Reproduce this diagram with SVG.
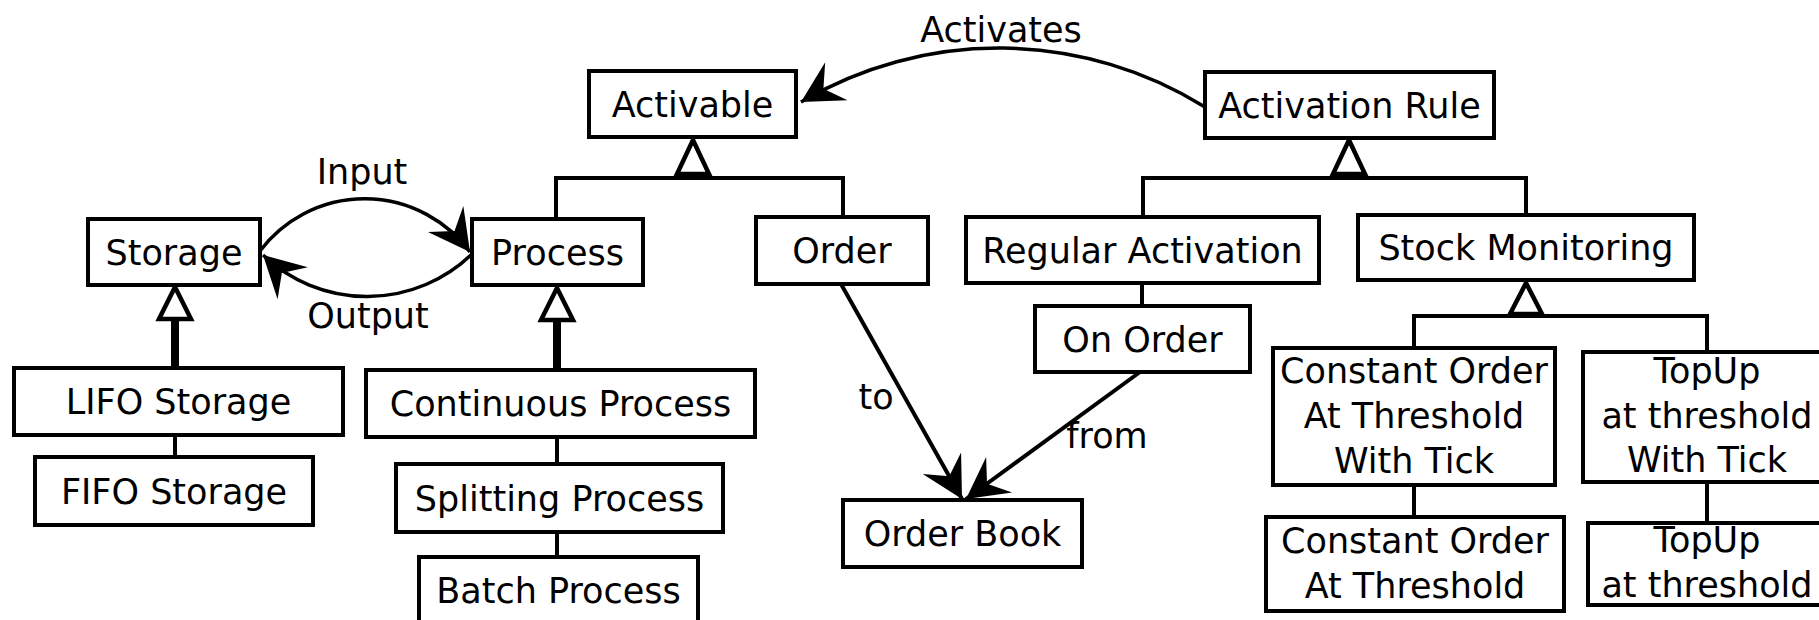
<svg xmlns="http://www.w3.org/2000/svg" width="1819" height="620" viewBox="0 0 1819 620">
<style>
.box{fill:#fff;stroke:#000;stroke-width:4}
.t{font-family:"DejaVu Sans",sans-serif;font-size:35px;fill:#000;text-anchor:middle}
.ln{fill:none;stroke:#000;stroke-width:4}
.arc{fill:none;stroke:#000;stroke-width:3.5}
.tri{fill:#fff;stroke:#000;stroke-width:4.5;stroke-linejoin:miter}
.stem{fill:none;stroke:#000;stroke-width:8}
</style>
<defs>
<marker id="arr" markerUnits="userSpaceOnUse" orient="auto" markerWidth="50" markerHeight="50" viewBox="-46 -25 50 50" refX="0" refY="0">
<path d="M0,0 L-41,-22 L-26,0 L-41,22 Z" fill="#000"/>
</marker>
</defs>
<rect width="1819" height="620" fill="#fff"/>
<g id="connectors">
<path class="arc" d="M1205,107 A390,390 0 0 0 801,102" marker-end="url(#arr)"/>
<path class="arc" d="M260,251 A131,131 0 0 1 470,252" marker-end="url(#arr)"/>
<path class="arc" d="M472,254 A151,151 0 0 1 263,255" marker-end="url(#arr)"/>
<path class="ln" d="M841,284 L962,499" marker-end="url(#arr)"/>
<path class="ln" d="M1140,372 L966,499" marker-end="url(#arr)"/>
<polyline class="ln" points="556,219 556,178 843,178 843,217"/>
<polyline class="ln" points="1143,217 1143,178 1526,178 1526,215"/>
<line class="ln" x1="1142" y1="283" x2="1142" y2="306"/>
<polyline class="ln" points="1414,348 1414,316 1707,316 1707,352"/>
<line class="ln" x1="1414" y1="485" x2="1414" y2="517"/>
<line class="ln" x1="1707" y1="482" x2="1707" y2="523"/>
<line class="stem" x1="175" y1="318" x2="175" y2="368"/>
<line class="ln" x1="175" y1="435" x2="175" y2="457"/>
<line class="stem" x1="557" y1="319" x2="557" y2="370"/>
<line class="ln" x1="557" y1="437" x2="557" y2="464"/>
<line class="ln" x1="557" y1="532" x2="557" y2="557"/>
<polygon class="tri" points="693,140 677,174 709,174"/>
<polygon class="tri" points="1349,140 1333,174 1365,174"/>
<polygon class="tri" points="1526,283 1510,314 1542,314"/>
<polygon class="tri" points="175,287 159,319 191,319"/>
<polygon class="tri" points="557,288 541,320 573,320"/>
<text class="t" x="1001" y="42">Activates</text>
<text class="t" x="362" y="184">Input</text>
<text class="t" x="368" y="328">Output</text>
<text class="t" x="876" y="409">to</text>
<text class="t" x="1107" y="448">from</text>
</g>
<g id="activable"><rect class="box" x="589" y="71" width="207" height="66"/><text class="t" x="692.5" y="116.5">Activable</text></g>
<g id="activation-rule"><rect class="box" x="1205" y="72" width="289" height="66"/><text class="t" x="1349.5" y="117.5">Activation Rule</text></g>
<g id="storage"><rect class="box" x="88" y="219" width="172" height="66"/><text class="t" x="174" y="264.5">Storage</text></g>
<g id="process"><rect class="box" x="472" y="219" width="171" height="66"/><text class="t" x="557.5" y="264.5">Process</text></g>
<g id="order"><rect class="box" x="756" y="217" width="172" height="67"/><text class="t" x="842" y="263">Order</text></g>
<g id="regular-activation"><rect class="box" x="966" y="217" width="353" height="66"/><text class="t" x="1142.5" y="262.5">Regular Activation</text></g>
<g id="stock-monitoring"><rect class="box" x="1358" y="215" width="336" height="65"/><text class="t" x="1526" y="260">Stock Monitoring</text></g>
<g id="on-order"><rect class="box" x="1035" y="306" width="215" height="66"/><text class="t" x="1142.5" y="351.5">On Order</text></g>
<g id="lifo-storage"><rect class="box" x="14" y="368" width="329" height="67"/><text class="t" x="178.5" y="414">LIFO Storage</text></g>
<g id="fifo-storage"><rect class="box" x="35" y="457" width="278" height="68"/><text class="t" x="174" y="503.5">FIFO Storage</text></g>
<g id="continuous-process"><rect class="box" x="366" y="370" width="389" height="67"/><text class="t" x="560.5" y="416">Continuous Process</text></g>
<g id="splitting-process"><rect class="box" x="396" y="464" width="327" height="68"/><text class="t" x="559.5" y="510.5">Splitting Process</text></g>
<g id="batch-process"><rect class="box" x="419" y="557" width="279" height="67"/><text class="t" x="558.5" y="603">Batch Process</text></g>
<g id="order-book"><rect class="box" x="843" y="500" width="239" height="67"/><text class="t" x="962.5" y="546">Order Book</text></g>
<g id="constant-order-tick"><rect class="box" x="1273" y="348" width="282" height="137"/><text class="t" x="1414" y="383">Constant Order</text><text class="t" x="1414" y="428">At Threshold</text><text class="t" x="1414" y="473">With Tick</text></g>
<g id="constant-order"><rect class="box" x="1266" y="517" width="298" height="94"/><text class="t" x="1415" y="553">Constant Order</text><text class="t" x="1415" y="598">At Threshold</text></g>
<g id="topup-tick"><rect class="box" x="1583" y="352" width="248" height="130"/><text class="t" x="1707" y="383">TopUp</text><text class="t" x="1707" y="428">at threshold</text><text class="t" x="1707" y="472">With Tick</text></g>
<g id="topup"><rect class="box" x="1588" y="523" width="238" height="82"/><text class="t" x="1707" y="552">TopUp</text><text class="t" x="1707" y="597">at threshold</text></g>
</svg>
